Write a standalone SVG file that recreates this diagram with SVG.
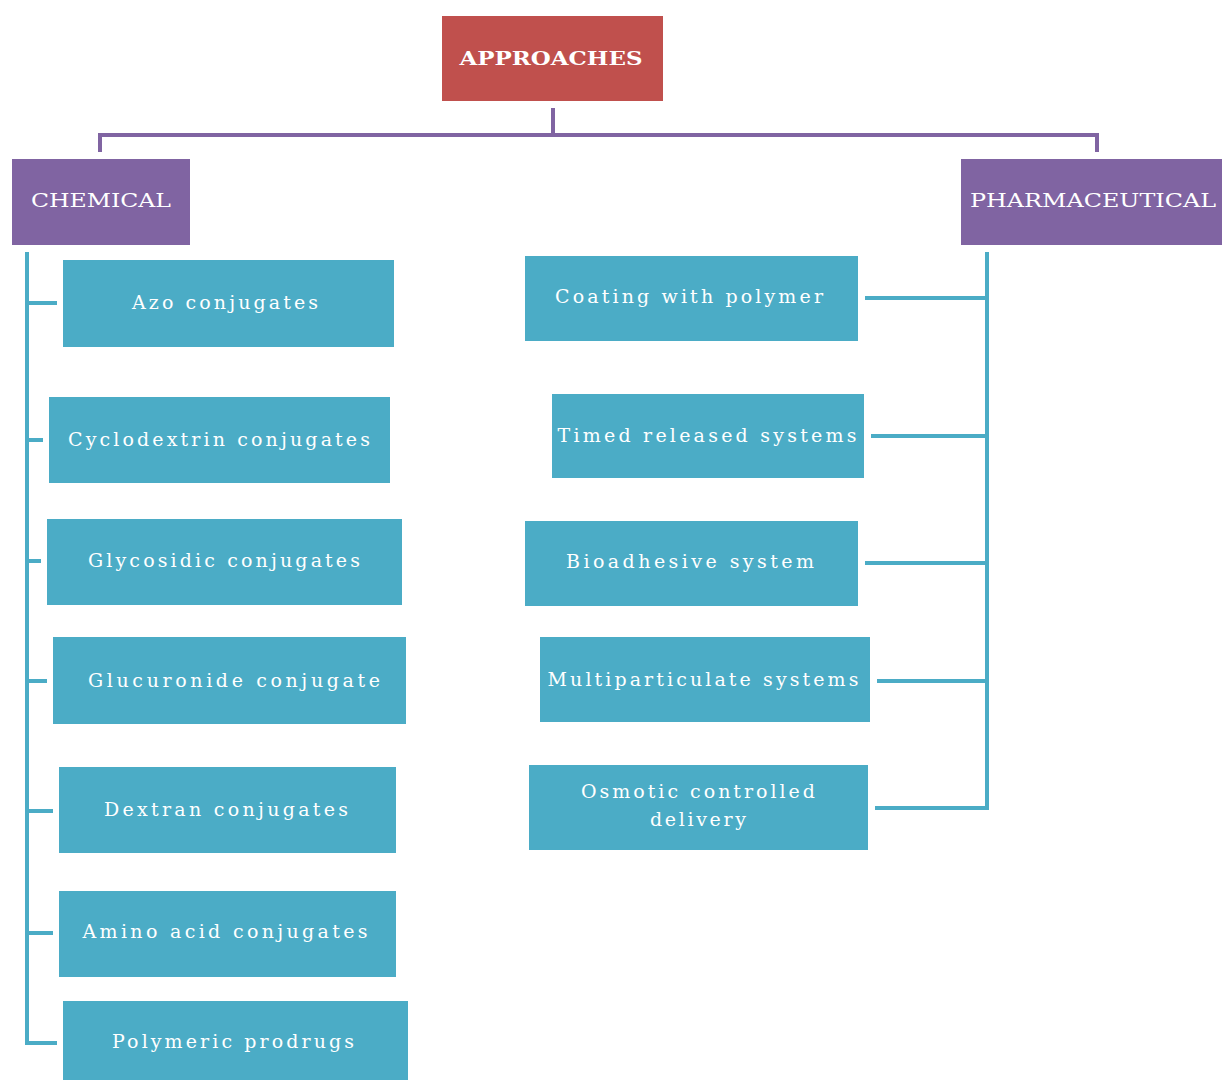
<svg xmlns="http://www.w3.org/2000/svg" width="1222" height="1080" viewBox="0 0 1222 1080">
<style>
.root{fill:#C0504D}
.cat{fill:#8064A2}
.item{fill:#4BACC6}
text{font-family:"DejaVu Serif","Liberation Serif",serif;font-size:19px;fill:#ffffff;text-anchor:middle}
.b{font-weight:bold}
.pc{stroke:#8064A2;stroke-width:4;fill:none}
.bc{stroke:#4BACC6;stroke-width:4;fill:none}
</style>
<rect width="1222" height="1080" fill="#ffffff"/>
<g id="connectors">
<path class="pc" d="M553,108 V135 M100,152 V135 H1097 V152"/>
<path class="bc" d="M27,252 V1043 H57 M27,303 H57 M27,440 H43 M27,561 H41 M27,681 H47 M27,811 H53 M27,933 H53"/>
<path class="bc" d="M987,252 V808 H875 M987,298 H865 M987,436 H871 M987,563 H865 M987,681 H877"/>
</g>
<g id="approaches"><rect class="root" x="442" y="16" width="221" height="85"/><text class="b" x="551" y="65" textLength="183" lengthAdjust="spacingAndGlyphs">APPROACHES</text></g>
<g id="chemical"><rect class="cat" x="12" y="159" width="178" height="86"/><text x="101" y="207" textLength="140" lengthAdjust="spacingAndGlyphs">CHEMICAL</text></g>
<g id="pharmaceutical"><rect class="cat" x="961" y="159" width="261" height="86"/><text x="1093" y="207" textLength="246" lengthAdjust="spacingAndGlyphs">PHARMACEUTICAL</text></g>
<g id="azo"><rect class="item" x="63" y="260" width="331" height="87"/><text x="225" y="309" textLength="186" lengthAdjust="spacing">Azo conjugates</text></g>
<g id="cyclodextrin"><rect class="item" x="49" y="397" width="341" height="86"/><text x="219" y="446" textLength="302" lengthAdjust="spacing">Cyclodextrin conjugates</text></g>
<g id="glycosidic"><rect class="item" x="47" y="519" width="355" height="86"/><text x="224" y="567" textLength="272" lengthAdjust="spacing">Glycosidic conjugates</text></g>
<g id="glucuronide"><rect class="item" x="53" y="637" width="353" height="87"/><text x="234" y="687" textLength="292" lengthAdjust="spacing">Glucuronide conjugate</text></g>
<g id="dextran"><rect class="item" x="59" y="767" width="337" height="86"/><text x="226" y="816" textLength="244" lengthAdjust="spacing">Dextran conjugates</text></g>
<g id="amino"><rect class="item" x="59" y="891" width="337" height="86"/><text x="225" y="938" textLength="285" lengthAdjust="spacing">Amino acid conjugates</text></g>
<g id="polymeric"><rect class="item" x="63" y="1001" width="345" height="79"/><text x="233" y="1048" textLength="242" lengthAdjust="spacing">Polymeric prodrugs</text></g>
<g id="coating"><rect class="item" x="525" y="256" width="333" height="85"/><text x="689" y="303" textLength="268" lengthAdjust="spacing">Coating with polymer</text></g>
<g id="timed"><rect class="item" x="552" y="394" width="312" height="84"/><text x="707" y="442" textLength="299" lengthAdjust="spacing">Timed released systems</text></g>
<g id="bioadhesive"><rect class="item" x="525" y="521" width="333" height="85"/><text x="690" y="568" textLength="248" lengthAdjust="spacing">Bioadhesive system</text></g>
<g id="multiparticulate"><rect class="item" x="540" y="637" width="330" height="85"/><text x="703" y="686" textLength="311" lengthAdjust="spacing">Multiparticulate systems</text></g>
<g id="osmotic"><rect class="item" x="529" y="765" width="339" height="85"/><text x="698" y="798" textLength="234" lengthAdjust="spacing">Osmotic controlled</text><text x="698" y="826" textLength="96" lengthAdjust="spacing">delivery</text></g>
</svg>
